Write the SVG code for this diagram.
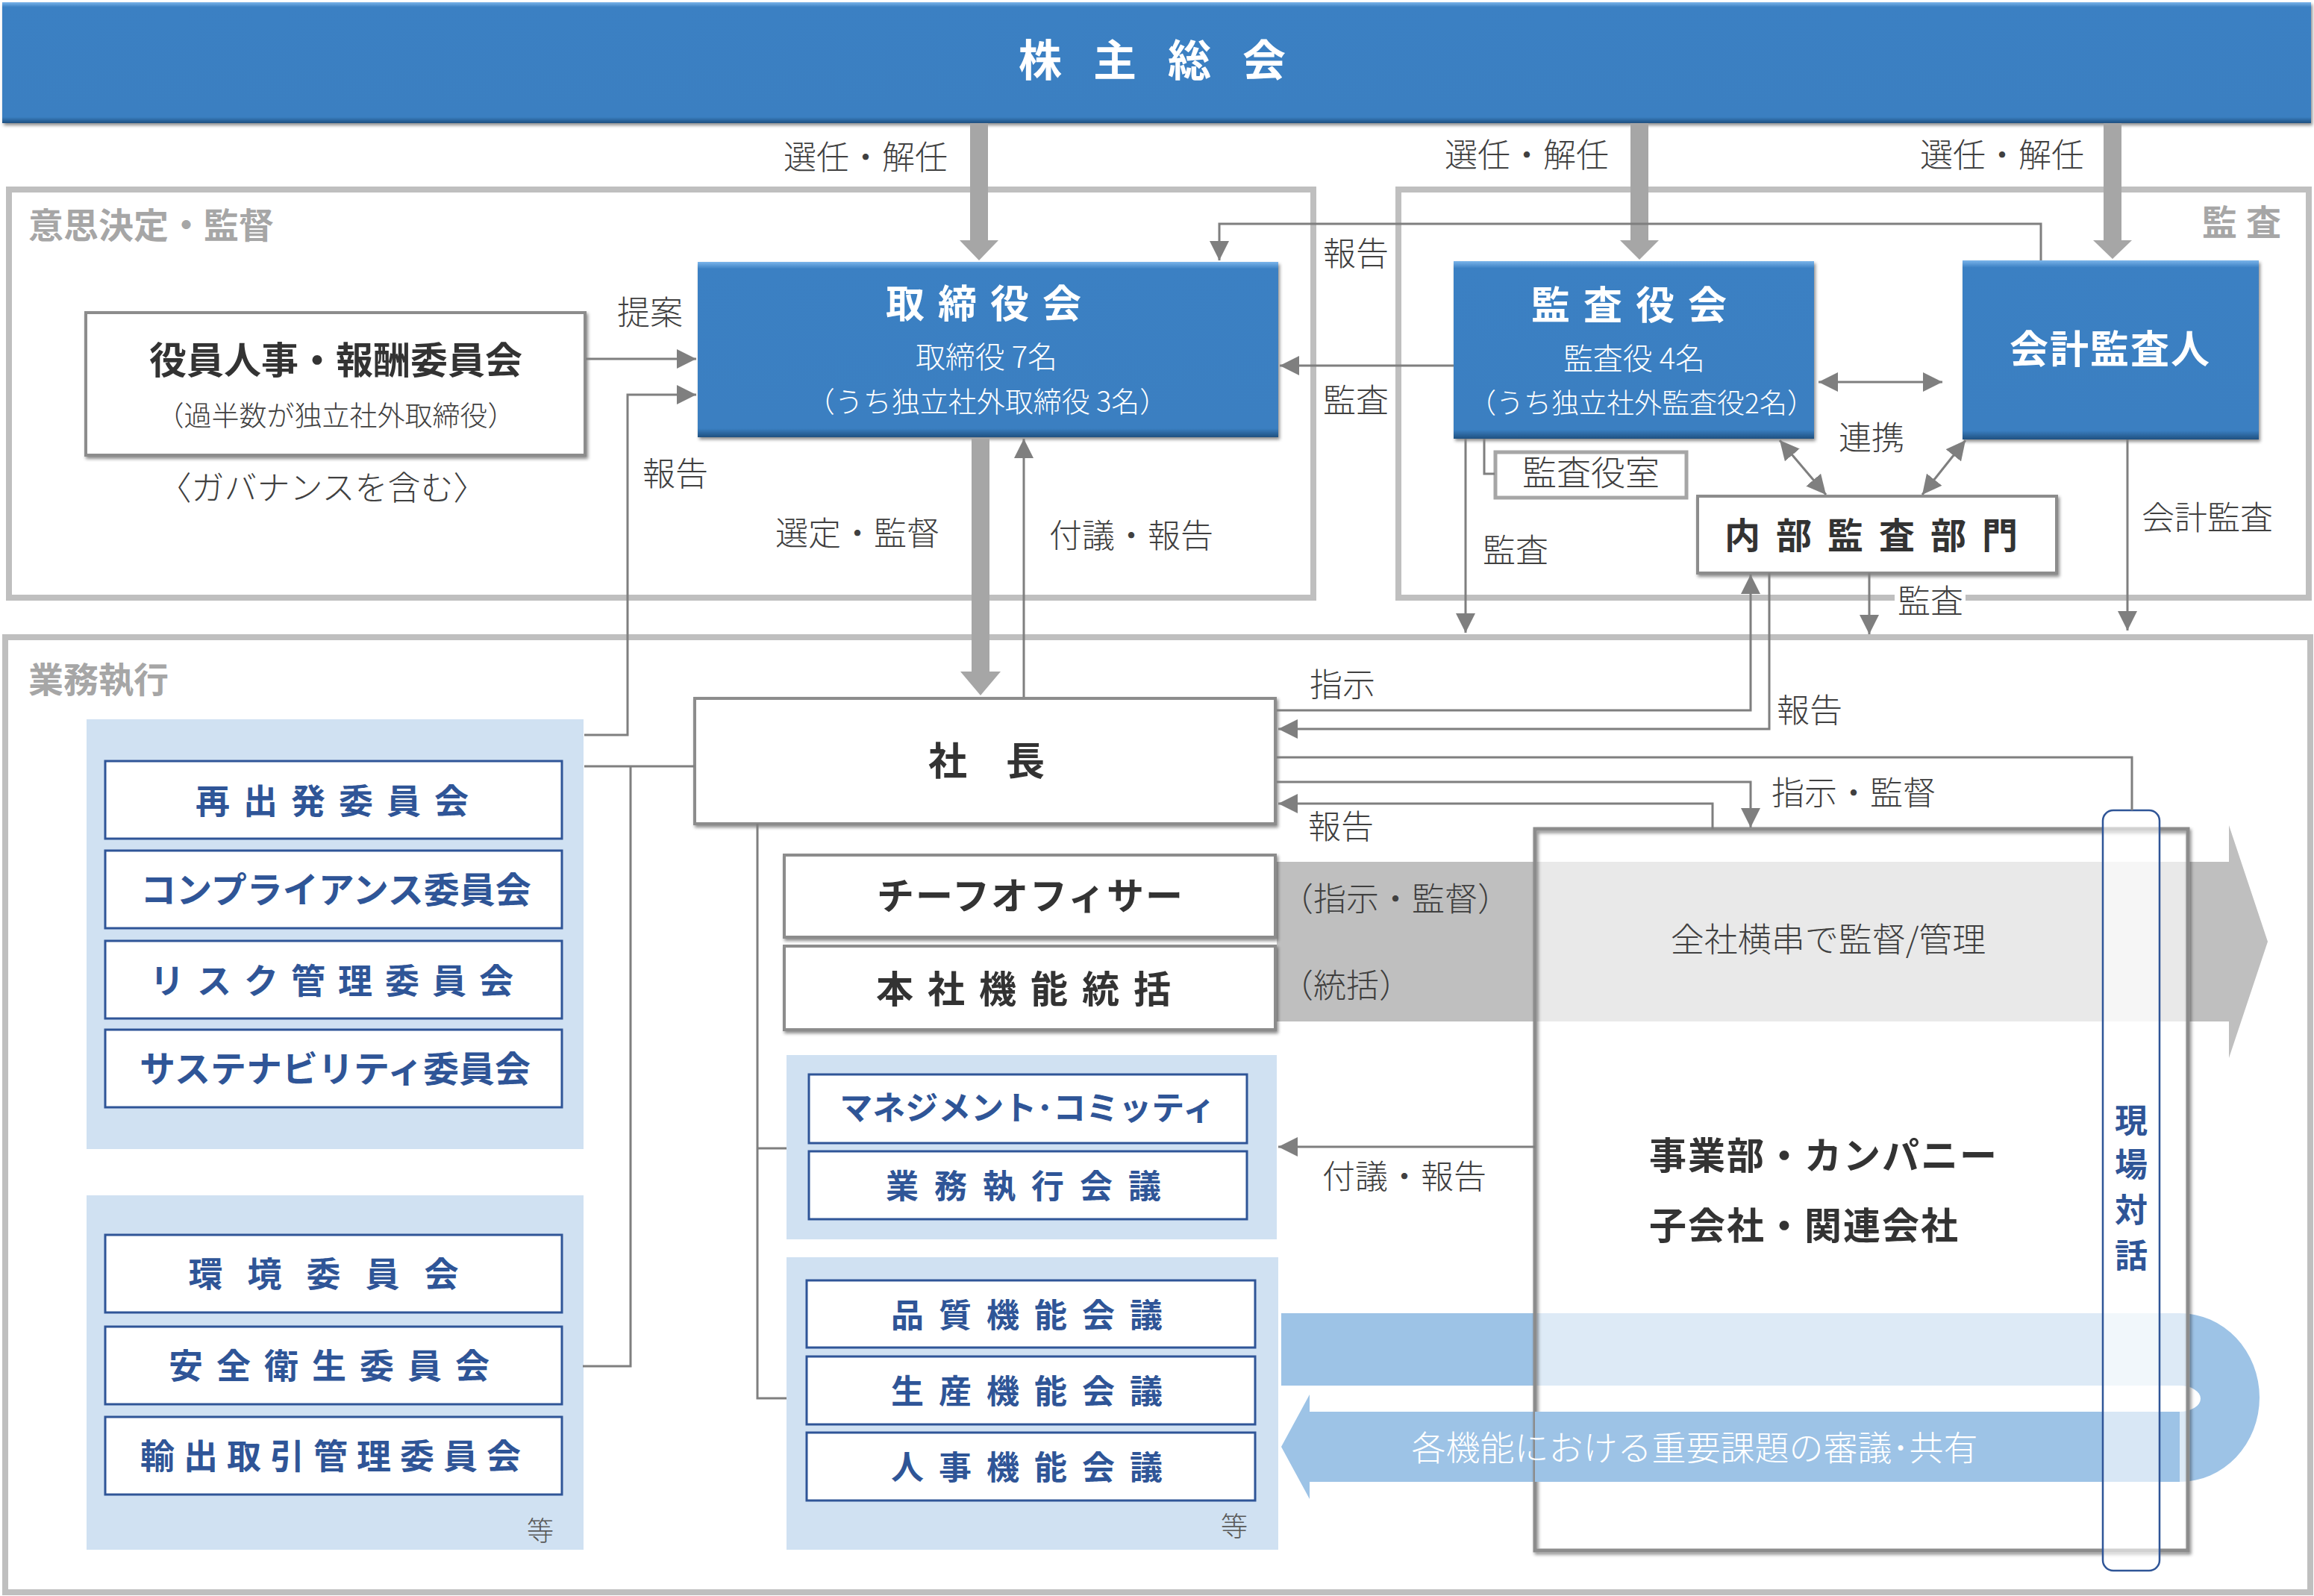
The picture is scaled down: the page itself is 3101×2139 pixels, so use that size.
<svg xmlns="http://www.w3.org/2000/svg" width="3101" height="2139" viewBox="0 0 3101 2139">
<defs>
<style>
text{font-family:"Noto Sans CJK JP","Noto Sans CJK SC",sans-serif;}
.lbl{font-size:44px;fill:#404040;font-weight:300;}
.sec{font-size:47px;font-weight:700;fill:#a6a6a6;}
.wt{fill:#fff;text-anchor:middle;font-weight:300;}
.wb{fill:#fff;font-weight:700;font-size:52px;text-anchor:middle;}
.db{fill:#333;font-weight:700;text-anchor:middle;}
.dbs{fill:#333;font-weight:700;font-size:50px;letter-spacing:2px;}
.cb{fill:#2f5597;font-weight:700;font-size:46px;text-anchor:middle;}
.secbox{fill:none;stroke:#bfbfbf;stroke-width:8;}
.grp{fill:#d0e1f2;}
.cbox{fill:#fff;stroke:#2f5597;stroke-width:3;}
.wbox{fill:#fff;stroke:#8c8c8c;stroke-width:4;filter:url(#sh);}
.bbox{fill:url(#bg);filter:url(#sh);}
.conn{fill:none;stroke:#7f7f7f;stroke-width:3;}
.thick{fill:#a6a6a6;}
.etc{font-size:36px;fill:#595959;font-weight:300;}
</style>
<linearGradient id="bg" x1="0" y1="0" x2="0" y2="1">
<stop offset="0" stop-color="#7ab4ea"/>
<stop offset="0.04" stop-color="#3b80c3"/>
<stop offset="0.95" stop-color="#3a7fc1"/>
<stop offset="1" stop-color="#1f5080"/>
</linearGradient>
<filter id="sh" x="-5%" y="-5%" width="110%" height="115%">
<feDropShadow dx="2" dy="3" stdDeviation="2" flood-color="#000" flood-opacity="0.45"/>
</filter>
<marker id="ah" viewBox="0 0 10 10" refX="10" refY="5" markerWidth="26" markerHeight="26" markerUnits="userSpaceOnUse" orient="auto-start-reverse"><path d="M0,0L10,5L0,10z" fill="#7f7f7f"/></marker>
</defs>
<rect x="0" y="0" width="3101" height="2139" fill="#fff"/>

<!-- sections -->
<g id="sections">
<rect class="secbox" x="12" y="254" width="1748" height="547"/>
<text class="sec" x="38" y="319">意思決定・監督</text>
<rect class="secbox" x="1874" y="254" width="1220" height="547"/>
<text class="sec" x="2951" y="315" letter-spacing="12">監査</text>
<rect class="secbox" x="7" y="854" width="3089" height="1280"/>
<text class="sec" x="38" y="928">業務執行</text>
</g>

<!-- big background arrows -->
<g id="bands">
<path d="M1711,1155 H2987 V1106 L3039,1262 L2987,1418 V1369 H1711 Z" fill="#bfbfbf"/>
<path d="M1717,1760 H2921 A107,113 0 0 1 2921,1986 H1755 V2009 L1717,1939 L1755,1869 V1892 H2921 A28,17.5 0 0 0 2921,1857 H1717 Z" fill="#9dc3e6"/>
</g>

<!-- 株主総会 -->
<g id="shareholders">
<rect class="bbox" x="3" y="3" width="3094" height="162"/>
<text class="wb" x="1565" y="102" style="font-size:58px" letter-spacing="42">株主総会</text>
</g>

<!-- decision section nodes -->
<g id="exec-comp-committee">
<rect class="wbox" x="115" y="419" width="669" height="191"/>
<text class="db" x="450" y="501" font-size="50">役員人事・報酬委員会</text>
<text class="lbl" x="450" y="571" style="font-size:37px" text-anchor="middle">（過半数が独立社外取締役）</text>
</g>
<text class="lbl" x="432" y="670" text-anchor="middle">〈ガバナンスを含む〉</text>

<g id="board">
<rect class="bbox" x="935" y="351" width="778" height="235"/>
<text class="wb" x="1327" y="426" letter-spacing="18">取締役会</text>
<text class="wt" x="1322" y="493" font-size="40">取締役 7名</text>
<text class="wt" x="1323" y="552" font-size="38">（うち独立社外取締役 3名）</text>
</g>

<g id="auditors-board">
<rect class="bbox" x="1948" y="350" width="483" height="238"/>
<text class="wb" x="2192" y="428" letter-spacing="18">監査役会</text>
<text class="wt" x="2190" y="495" font-size="40">監査役 4名</text>
<text class="wt" x="2200" y="554" font-size="37">（うち独立社外監査役2名）</text>
</g>

<g id="accounting-auditor">
<rect class="bbox" x="2630" y="349" width="397" height="240"/>
<text class="wb" x="2828" y="487" letter-spacing="2">会計監査人</text>
</g>

<g id="auditors-office">
<rect x="2004" y="606" width="256" height="61" fill="#fff" stroke="#a6a6a6" stroke-width="5"/>
<text class="lbl" x="2132" y="650" style="font-size:46px" text-anchor="middle">監査役室</text>
</g>

<g id="internal-audit">
<rect class="wbox" x="2275" y="665" width="481" height="103"/>
<text class="db" x="2518" y="735" font-size="48" letter-spacing="21">内部監査部門</text>
</g>

<!-- execution nodes -->
<g id="president">
<rect class="wbox" x="931" y="936" width="778" height="168"/>
<text class="db" x="1322" y="1039" font-size="52">社　長</text>
</g>

<g id="chief-officer">
<rect class="wbox" x="1051" y="1146" width="658" height="110"/>
<text class="db" x="1381" y="1219" font-size="50" letter-spacing="2">チーフオフィサー</text>
</g>

<g id="hq-function">
<rect class="wbox" x="1051" y="1268" width="658" height="112"/>
<text class="db" x="1381" y="1344" font-size="50" letter-spacing="19">本社機能統括</text>
</g>

<g id="committees-1">
<rect class="grp" x="116" y="964" width="666" height="576"/>
<rect class="cbox" x="141" y="1020" width="612" height="104"/>
<text class="cb" x="454" y="1090" letter-spacing="18">再出発委員会</text>
<rect class="cbox" x="141" y="1140" width="612" height="104"/>
<text class="cb" x="450" y="1210" style="font-size:48px">コンプライアンス委員会</text>
<rect class="cbox" x="141" y="1261" width="612" height="104"/>
<text class="cb" x="453" y="1331" letter-spacing="17">リスク管理委員会</text>
<rect class="cbox" x="141" y="1380" width="612" height="104"/>
<text class="cb" x="449" y="1450" style="font-size:48px">サステナビリティ委員会</text>
</g>

<g id="committees-2">
<rect class="grp" x="116" y="1602" width="666" height="475"/>
<rect class="cbox" x="141" y="1655" width="612" height="104"/>
<text class="cb" x="450" y="1724" letter-spacing="33">環境委員会</text>
<rect class="cbox" x="141" y="1778" width="612" height="104"/>
<text class="cb" x="450" y="1847" letter-spacing="18">安全衛生委員会</text>
<rect class="cbox" x="141" y="1899" width="612" height="104"/>
<text class="cb" x="449" y="1968" letter-spacing="12">輸出取引管理委員会</text>
<text class="etc" x="706" y="2065">等</text>
</g>

<g id="management-meetings">
<rect class="grp" x="1054" y="1414" width="657" height="247"/>
<rect class="cbox" x="1084" y="1440" width="587" height="92"/>
<text class="cb" x="1377" y="1501" style="font-size:44px">マネジメント･コミッティ</text>
<rect class="cbox" x="1084" y="1543" width="587" height="91"/>
<text class="cb" x="1382" y="1606" style="font-size:44px" letter-spacing="21">業務執行会議</text>
</g>

<g id="function-meetings">
<rect class="grp" x="1054" y="1685" width="659" height="392"/>
<rect class="cbox" x="1081" y="1716" width="601" height="90"/>
<text class="cb" x="1386" y="1779" style="font-size:44px" letter-spacing="20">品質機能会議</text>
<rect class="cbox" x="1081" y="1818" width="601" height="91"/>
<text class="cb" x="1386" y="1881" style="font-size:44px" letter-spacing="20">生産機能会議</text>
<rect class="cbox" x="1081" y="1920" width="601" height="91"/>
<text class="cb" x="1386" y="1983" style="font-size:44px" letter-spacing="20">人事機能会議</text>
<text class="etc" x="1636" y="2059">等</text>
</g>

<g id="business-units">
<rect x="2057" y="1111" width="875" height="967" fill="#fff" fill-opacity="0.65"/>
<rect x="2057" y="1111" width="875" height="967" fill="none" stroke="#8c8c8c" stroke-width="5" filter="url(#sh)"/>
<rect x="2057" y="1892" width="864" height="94" fill="#9dc3e6"/>
<text class="lbl" x="2450" y="1276" style="font-size:45px" text-anchor="middle">全社横串で監督/管理</text>
<text class="dbs" x="2210" y="1567">事業部・カンパニー</text>
<text class="dbs" x="2210" y="1661">子会社・関連会社</text>
</g>
<text x="2271" y="1957" font-size="46" font-weight="300" fill="#fff" text-anchor="middle">各機能における重要課題の審議･共有</text>

<g id="field-dialogue">
<rect x="2818" y="1086" width="76" height="1019" rx="14" fill="#fff" fill-opacity="0.6" stroke="#2f5597" stroke-width="2.5"/>
<text class="cb" x="2856" y="1518" style="font-size:44px">現</text>
<text class="cb" x="2856" y="1577" style="font-size:44px">場</text>
<text class="cb" x="2856" y="1638" style="font-size:44px">対</text>
<text class="cb" x="2856" y="1699" style="font-size:44px">話</text>
</g>

<text class="lbl" x="1716" y="1221">（指示・監督）</text>
<text class="lbl" x="1716" y="1337">（統括）</text>

<!-- connectors -->
<g id="connectors">
<polygon class="thick" points="1300,165 1324,165 1324,322 1338,322 1312,349 1286,322 1300,322"/>
<polygon class="thick" points="2185,165 2209,165 2209,322 2223,322 2197,348 2171,322 2185,322"/>
<polygon class="thick" points="2819,165 2843,165 2843,322 2857,322 2831,347 2805,322 2819,322"/>
<polygon class="thick" points="1302,588 1326,588 1326,900 1341,900 1314,932 1287,900 1302,900"/>

<path class="conn" d="M785,481 H933" marker-end="url(#ah)"/>
<path class="conn" d="M783,985 H841 V529 H933" marker-end="url(#ah)"/>
<path class="conn" d="M2735,349 V300 H1634 V349" marker-end="url(#ah)"/>
<path class="conn" d="M1948,490 H1715" marker-end="url(#ah)"/>
<path class="conn" d="M1372,934 V588" marker-end="url(#ah)"/>
<path class="conn" d="M2437,512 H2603" marker-start="url(#ah)" marker-end="url(#ah)"/>
<path class="conn" d="M2385,590 L2447,663" marker-start="url(#ah)" marker-end="url(#ah)"/>
<path class="conn" d="M2634,590 L2576,663" marker-start="url(#ah)" marker-end="url(#ah)"/>
<path class="conn" d="M1989,588 V635 H2003"/>
<path class="conn" d="M1964,588 V848" marker-end="url(#ah)"/>
<path class="conn" d="M2505,768 V850" marker-end="url(#ah)"/>
<path class="conn" d="M2851,589 V845" marker-end="url(#ah)"/>
<path class="conn" d="M1711,952 H2346 V770" marker-end="url(#ah)"/>
<path class="conn" d="M2371,768 V977 H1713" marker-end="url(#ah)"/>
<path class="conn" d="M1711,1015 H2857 V1086"/>
<path class="conn" d="M1711,1048 H2346 V1109" marker-end="url(#ah)"/>
<path class="conn" d="M2295,1111 V1077 H1713" marker-end="url(#ah)"/>
<path class="conn" d="M931,1027 H783"/>
<path class="conn" d="M845,1027 V1831 H781"/>
<path class="conn" d="M1015,1104 V1874 H1054"/>
<path class="conn" d="M1015,1539 H1054"/>
<path class="conn" d="M2057,1537 H1713" marker-end="url(#ah)"/>
</g>

<!-- connector labels -->
<g id="labels">
<text class="lbl" x="1270" y="227" text-anchor="end">選任・解任</text>
<text class="lbl" x="2156" y="224" text-anchor="end">選任・解任</text>
<text class="lbl" x="2793" y="224" text-anchor="end">選任・解任</text>
<text class="lbl" x="827" y="435">提案</text>
<text class="lbl" x="861" y="651">報告</text>
<text class="lbl" x="1039" y="731">選定・監督</text>
<text class="lbl" x="1406" y="734">付議・報告</text>
<text class="lbl" x="1773" y="356">報告</text>
<text class="lbl" x="1773" y="553">監査</text>
<text class="lbl" x="2464" y="603">連携</text>
<text class="lbl" x="1987" y="754">監査</text>
<rect x="2539" y="780" width="95" height="46" fill="#fff"/>
<text class="lbl" x="2543" y="822">監査</text>
<text class="lbl" x="2870" y="710">会計監査</text>
<text class="lbl" x="1755" y="934">指示</text>
<text class="lbl" x="2381" y="968">報告</text>
<text class="lbl" x="2374" y="1079">指示・監督</text>
<text class="lbl" x="1753" y="1124">報告</text>
<text class="lbl" x="1772" y="1593">付議・報告</text>
</g>
</svg>
